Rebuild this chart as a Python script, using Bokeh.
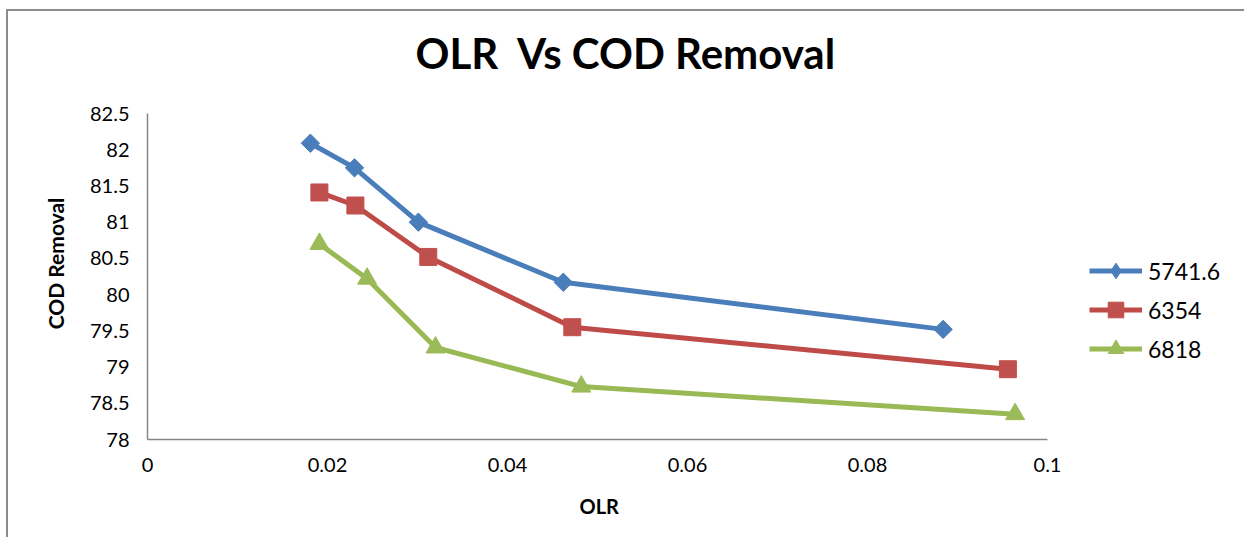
import math
from bokeh.plotting import figure
from bokeh.models import Range1d, Legend, LegendItem, FixedTicker, Title
from bokeh.embed import file_html
from bokeh.resources import INLINE

series_names = ["5741.6", "6354", "6818"]
olr_5741 = [0.0181, 0.0230, 0.0301, 0.0462, 0.0884]
cod_5741 = [82.09, 81.75, 81.00, 80.17, 79.52]
olr_6354 = [0.0191, 0.0231, 0.0312, 0.0472, 0.0956]
cod_6354 = [81.41, 81.23, 80.52, 79.55, 78.97]
olr_6818 = [0.0191, 0.0244, 0.0320, 0.0482, 0.0964]
cod_6818 = [80.70, 80.22, 79.27, 78.73, 78.35]
x_ticks = [0, 0.02, 0.04, 0.06, 0.08, 0.1]
y_ticks = [78, 78.5, 79, 79.5, 80, 80.5, 81, 81.5, 82, 82.5]

FONT = "Lato"
W, H = 1242, 532
BORDER_L, BORDER_B, BORDER_T = 139, 104, 76
X_AXIS_PX, FRAME_W = 900, 1092      # 0..0.1 spans 900px; frame goes further right for the legend
Y_AXIS_PX = 326                     # 78..82.5 spans 326px; frame goes further up
FRAME_H = H - BORDER_B - BORDER_T
x_end = 0.1 * FRAME_W / X_AXIS_PX
y_end = 78 + 4.5 * FRAME_H / Y_AXIS_PX

p = figure(width=W, height=H, output_backend="svg", toolbar_location=None,
           x_range=Range1d(0, x_end), y_range=Range1d(78, y_end),
           min_border_left=BORDER_L, min_border_right=W - BORDER_L - FRAME_W,
           min_border_top=BORDER_T, min_border_bottom=BORDER_B,
           title="OLR\u00a0 Vs COD Removal")
p.styles = {"margin-left": "8px", "margin-top": "11px", "box-shadow": "-4px -4px 0 -2px #8C8C8C"}
p.title.align = "left"
p.title.offset = 268
p.title.text_font = FONT
p.title.text_font_style = "bold"
p.title.text_font_size = "42px"
p.title.text_color = "#000000"
p.title.standoff = 20

p.grid.visible = False
p.outline_line_color = None
p.background_fill_color = "white"
p.border_fill_color = "white"

for ax in (p.xaxis[0], p.yaxis[0]):
    ax.axis_line_color = "#868686"
    ax.axis_line_width = 1.5
    ax.major_tick_out = 0
    ax.major_tick_in = 0
    ax.minor_tick_out = 0
    ax.minor_tick_in = 0
    ax.major_label_text_font = FONT
    ax.major_label_text_font_size = "20px"
    ax.major_label_text_color = "#000000"
    ax.axis_label_text_font = FONT
    ax.axis_label_text_font_style = "bold"
    ax.axis_label_text_font_size = "21px"
    ax.axis_label_text_color = "#000000"

p.xaxis.bounds = (0, 0.1)
p.yaxis.bounds = (78, 82.5)
p.xaxis.ticker = FixedTicker(ticks=x_ticks)
p.yaxis.ticker = FixedTicker(ticks=y_ticks)
p.xaxis.major_label_overrides = {0: "0", 0.02: "0.02", 0.04: "0.04", 0.06: "0.06", 0.08: "0.08", 0.1: "0.1"}
p.yaxis.axis_label = "COD Removal"
p.xaxis.major_label_standoff = 18
p.yaxis.major_label_standoff = 18
p.yaxis.axis_label_standoff = 19

xlab = Title(text="OLR", align="left", offset=432, text_font=FONT, text_font_style="bold",
             text_font_size="20px", text_color="#000000", standoff=35)
p.add_layout(xlab, "below")

colors = ["#4A7EBB", "#BE4B48", "#98B954"]
data = [(olr_5741, cod_5741), (olr_6354, cod_6354), (olr_6818, cod_6818)]
items = []
for i, (xs, ys) in enumerate(data):
    c = colors[i]
    ln = p.line(xs, ys, line_color=c, line_width=5)
    if i == 0:
        mk = p.scatter(xs, ys, marker="square", size=13, angle=math.pi / 4,
                       fill_color=c, line_color=c)
        # diamond used only for the legend swatch (size 0 on the plot)
        leg_mk = p.scatter(xs, ys, marker="diamond", size=0, fill_color=c, line_color=c)
        rends = [ln, leg_mk]
    elif i == 1:
        mk = p.scatter(xs, ys, marker="square", size=17, fill_color="#C0504D", line_color="#C0504D")
        rends = [ln, mk]
    else:
        mk = p.scatter(xs, ys, marker="triangle", size=19, fill_color="#9BBB59", line_color="#9BBB59")
        rends = [ln, mk]
    items.append(LegendItem(label=series_names[i], renderers=rends))

legend = Legend(items=items, location=(942, 71), padding=0, margin=0, spacing=0,
                glyph_width=53, glyph_height=39, label_height=39, label_standoff=6,
                label_text_font=FONT, label_text_font_size="23px", label_text_color="#000000",
                border_line_color=None, background_fill_alpha=0)
p.add_layout(legend, "center")

open("out.html", "w").write(file_html(p, INLINE))
